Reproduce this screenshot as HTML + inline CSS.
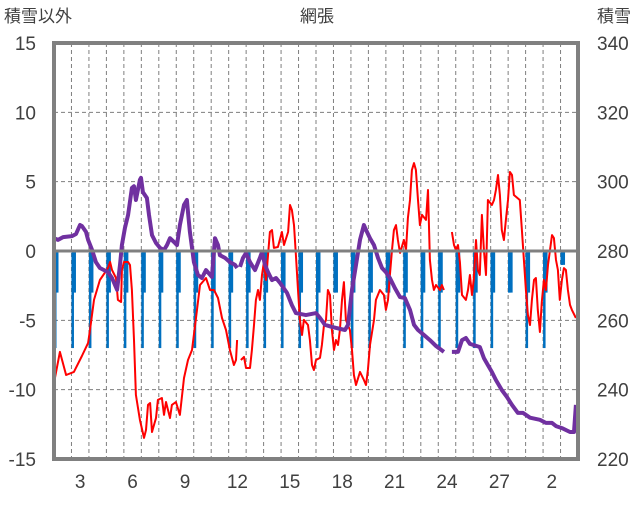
<!DOCTYPE html>
<html><head><meta charset="utf-8">
<style>
html,body{margin:0;padding:0;background:#fff;}
svg text{font-family:"Liberation Sans","Noto Sans CJK JP",sans-serif;fill:#404040;}
</style></head>
<body>
<svg id="chart" width="636" height="501" viewBox="0 0 636 501" xmlns="http://www.w3.org/2000/svg">
<text x="4" y="22" font-size="17">積雪以外</text>
<text x="317" y="22" font-size="17" text-anchor="middle">網張</text>
<text x="631" y="22" font-size="17" text-anchor="end">積雪</text>
<g id="grid"></g>
<g id="bars"></g>
<g id="lines"></g>
<g id="axes"></g>
</svg>
<script>
const leftTicks = [15,10,5,0,-5,-10,-15];
const rightTicks = [340,320,300,280,260,240,220];
const xLabels = ["3","6","9","12","15","18","21","24","27","2"];
const xLabelSlots = [1,4,7,10,13,16,19,22,25,28];
const barDays = [0,1,2,3,4,5,6,7,8,9,10,11,12,13,14,15,16,17,18,19,20,21,22,23,24,25,26,27,28,29];
const barLong = [-7,-7,-7,-7,-7,-7,-7,-7,-7,-7,-7,-7,-7,-7,-7,-7,-3,-7,-7,-3,-7,-7,-7,-7,-7,-7,-3,-7,-7,-1];
const barShort = [-3,-3,-3,-3,-3,-3,-3,-3,-3,-3,-3,-3,-3,-3,-3,-3,-3,-3,-3,-3,-3,-3,-3,-3,-3,-3,-3,-3,-3,-1];
const tempT = [0.00,0.34,0.69,1.14,1.60,1.95,2.06,2.29,2.63,3.09,3.21,3.32,3.55,3.66,3.84,3.89,4.01,4.24,4.35,4.46,4.58,4.69,4.92,5.15,5.27,5.38,5.50,5.61,5.84,5.95,6.18,6.30,6.41,6.64,6.75,6.98,7.21,7.44,7.67,7.90,8.13,8.36,8.70,8.93,9.16,9.39,9.62,9.85,10.07,10.30,10.42,10.48,10.59,10.70,10.88,10.99,11.22,11.33,11.45,11.56,11.68,11.79,11.91,12.02,12.14,12.36,12.48,12.59,12.82,13.05,13.17,13.40,13.51,13.62,13.74,13.85,13.97,14.08,14.20,14.31,14.54,14.65,14.77,14.88,15.00,15.23,15.34,15.46,15.57,15.68,15.80,15.91,16.03,16.14,16.26,16.37,16.49,16.60,16.71,16.94,17.06,17.17,17.29,17.52,17.74,17.86,17.97,18.09,18.32,18.43,18.66,18.89,19.00,19.12,19.23,19.35,19.46,19.58,19.69,19.81,20.03,20.15,20.26,20.38,20.49,20.61,20.72,20.84,20.95,21.07,21.30,21.41,21.52,21.64,21.75,21.87,22.10,22.21,22.32,22.55,22.78,22.90,23.01,23.13,23.24,23.36,23.58,23.70,23.81,23.93,24.04,24.16,24.27,24.38,24.50,24.61,24.73,24.84,25.07,25.19,25.30,25.42,25.53,25.64,25.76,25.87,25.99,26.10,26.22,26.33,26.67,26.79,26.90,27.02,27.13,27.25,27.36,27.48,27.59,27.70,27.82,27.93,28.05,28.16,28.28,28.51,28.62,28.74,28.85,28.96,29.08,29.19,29.31,29.42,29.54,29.65,29.88];
const tempV = [-9.52,-7.28,-8.94,-8.72,-7.57,-6.63,-5.70,-3.53,-2.09,-1.23,-0.79,-1.37,-1.95,-3.53,-3.68,-1.37,-0.79,-0.79,-1.01,-2.81,-6.42,-10.38,-12.18,-13.48,-12.91,-11.10,-10.96,-13.05,-12.04,-10.74,-10.60,-11.82,-10.89,-12.04,-11.10,-10.89,-11.82,-9.16,-7.86,-7.14,-4.83,-2.45,-1.95,-2.81,-2.81,-3.39,-4.83,-5.70,-7.14,-8.22,-7.86,-6.42,null,-7.86,-7.64,-8.44,-8.44,-7.14,-5.34,-3.53,-2.81,-3.53,-1.73,-0.79,-2.09,1.37,1.51,0.22,0.29,1.37,0.43,1.37,3.32,2.96,1.87,-0.29,-2.81,-4.97,-6.06,-4.97,-5.34,-6.42,-8.22,-8.58,-7.86,-7.71,-6.78,-5.34,-4.97,-2.81,-3.17,-5.70,-7.14,-6.42,-6.78,-5.70,-3.53,-2.24,-4.97,-5.70,-7.14,-8.94,-9.66,-8.72,-9.30,-9.66,-8.58,-6.78,-4.97,-3.53,-2.81,-3.17,-4.25,-3.53,-1.73,0.07,1.51,1.87,0.79,-0.14,0.79,0.07,2.38,3.68,5.84,6.34,5.84,3.68,1.87,2.60,2.24,4.40,-0.65,-2.09,-2.81,-2.45,-2.81,-2.45,-2.81,null,1.37,0.43,0.07,0.43,-0.79,-3.17,-3.53,-2.81,-1.73,-3.17,-1.95,0.79,-1.37,-1.73,2.60,0.07,-1.73,3.68,3.32,3.68,4.40,5.48,4.04,1.51,0.79,2.24,3.68,5.70,5.48,4.04,3.68,1.51,-0.65,-2.81,-4.61,-5.34,-3.53,-2.09,-1.95,-4.25,-5.84,-3.68,-2.09,-2.81,-1.01,1.15,0.94,-0.65,-1.37,-3.53,-2.09,-1.23,-1.37,-2.81,-3.89,-4.25,-4.83];
const snowT = [0.00,0.23,0.52,1.03,1.26,1.49,1.60,1.83,1.95,2.18,2.40,2.63,3.09,3.32,3.61,3.78,3.89,4.06,4.24,4.46,4.58,4.69,4.92,4.98,5.09,5.32,5.44,5.61,5.84,6.07,6.30,6.47,6.64,6.87,7.04,7.21,7.44,7.61,7.67,7.78,8.01,8.24,8.47,8.70,9.04,9.22,9.39,9.50,9.79,10.07,10.36,10.48,10.56,10.65,10.82,10.99,11.22,11.51,11.79,11.91,12.08,12.25,12.48,12.71,12.94,13.34,13.62,13.85,14.42,15.00,15.23,15.51,15.91,16.66,16.83,17.06,17.29,17.52,17.74,17.86,18.09,18.32,18.55,18.78,19.00,19.23,19.52,19.81,20.09,20.38,20.61,20.84,21.18,21.52,21.87,22.32,22.55,22.78,23.13,23.36,23.58,23.81,24.38,24.61,24.84,25.07,25.30,25.64,25.93,26.22,26.56,26.85,27.25,27.82,28.16,28.51,28.74,29.08,29.54,29.77,29.88];
const snowV = [283.7,283.2,284.0,284.3,284.9,287.5,287.2,285.5,283.2,280.3,276.8,275.1,273.9,272.2,268.8,276.0,281.7,286.6,290.4,298.2,298.7,294.7,300.5,301.1,297.0,295.3,290.4,284.6,282.3,280.9,280.3,281.7,283.7,282.6,281.7,287.5,293.3,294.7,291.2,285.5,276.8,273.1,272.2,274.5,272.5,283.7,281.7,278.8,278.0,276.8,276.0,275.1,null,275.4,278.0,279.4,276.8,274.5,278.0,279.7,276.0,273.9,271.6,272.2,270.8,267.9,264.4,262.1,261.5,262.1,260.7,258.7,258.1,257.2,258.7,268.8,276.0,283.2,287.5,286.1,283.7,281.7,278.0,275.1,273.9,272.2,269.3,266.7,266.4,263.0,258.7,257.2,255.8,254.3,252.6,250.9,null,250.9,250.9,254.3,254.9,253.2,252.3,249.1,247.1,245.1,242.8,239.9,237.9,235.6,233.3,233.3,231.9,231.3,230.4,230.4,229.5,228.9,227.8,227.8,235.6];

const NS='http://www.w3.org/2000/svg';
const X0=54, X1=578, Y0=43, Y1=459, DAYS=30;
const xs = t => X0 + t*(X1-X0)/DAYS;
const yL = v => Y1 - (v+15)*(Y1-Y0)/30;
const yR = v => Y1 - (v-220)*(Y1-Y0)/120;
function mk(tag, attrs, parent){const e=document.createElementNS(NS,tag);for(const k in attrs)e.setAttribute(k,attrs[k]);parent.appendChild(e);return e;}
const grid=document.getElementById('grid'), bars=document.getElementById('bars'), lines=document.getElementById('lines'), axes=document.getElementById('axes');

for(let i=1;i<DAYS;i++){
  const l=mk('line',{x1:xs(i),x2:xs(i),y1:Y0,y2:Y1,stroke:'#7f7f7f','stroke-width':1,'stroke-dasharray':'4,3'},grid);
  
  
}
leftTicks.forEach((v,i)=>{
  if(v!==0 && v!==15 && v!==-15){
    const l=mk('line',{x1:X0,x2:X1,y1:yL(v),y2:yL(v),stroke:'#7f7f7f','stroke-width':1,'stroke-dasharray':'4,3'},grid);
    
    
  }
  const t=mk('text',{x:36,y:yL(v)+7,'font-size':19,'text-anchor':'end'},axes);
  t.textContent=v;
  
  
});
rightTicks.forEach(v=>{
  const t=mk('text',{x:597,y:yR(v)+7,'font-size':19},axes);
  t.textContent=v;
  
  
});
xLabels.forEach((s,i)=>{
  const t=mk('text',{x:xs(xLabelSlots[i]+0.5),y:488,'font-size':19,'text-anchor':'middle'},axes);
  t.textContent=s;
  
  
});
barDays.forEach((d,i)=>{
  const x=xs(d);
  const b1=mk('rect',{x:x,y:yL(0),width:2.5,height:yL(barLong[i])-yL(0),fill:'#0070c0'},bars);
  
  
  const b2=mk('rect',{x:x,y:yL(0),width:4.5,height:yL(barShort[i])-yL(0),fill:'#0070c0'},bars);
  
  
});
function pathOf(T,V,yf){let d='',pen=false;for(let i=0;i<T.length;i++){if(V[i]===null){pen=false;continue;}d+=(pen?'L':'M')+xs(T[i]).toFixed(1)+','+yf(V[i]).toFixed(1);pen=true;}return d;}
const red=mk('path',{d:pathOf(tempT,tempV,yL),fill:'none',stroke:'#ff0000','stroke-width':2,'stroke-linejoin':'round'},lines);


const pur=mk('path',{d:pathOf(snowT,snowV,yR),fill:'none',stroke:'#7030a0','stroke-width':4,'stroke-linejoin':'round'},lines);


const zero=mk('line',{x1:X0,x2:X1,y1:yL(0),y2:yL(0),stroke:'#808080','stroke-width':3},axes);


const frame=mk('rect',{x:X0,y:Y0,width:X1-X0,height:Y1-Y0,fill:'none',stroke:'#808080','stroke-width':4},axes);


</script>
</body></html>
